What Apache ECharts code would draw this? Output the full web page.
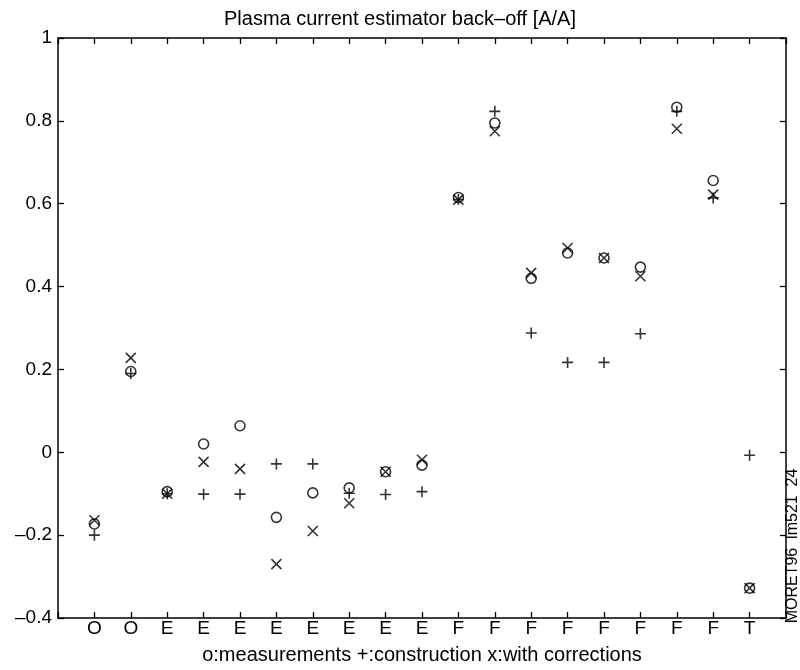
<!DOCTYPE html>
<html>
<head>
<meta charset="utf-8">
<script src="https://cdn.jsdelivr.net/npm/echarts@6/dist/echarts.min.js"></script>
<style>html,body{margin:0;padding:0;background:#fff}#c{width:800px;height:670px}</style>
</head>
<body>
<div id="c"></div>
<script>
const categories = ['O','O','E','E','E','E','E','E','E','E','F','F','F','F','F','F','F','F','T'];
const measurements = [-0.173, 0.195, -0.095, 0.020, 0.064, -0.157, -0.098, -0.086, -0.047, -0.031, 0.615, 0.795, 0.420, 0.481, 0.469, 0.447, 0.833, 0.656, -0.328];
const construction = [-0.200, 0.190, -0.100, -0.101, -0.101, -0.028, -0.028, -0.099, -0.102, -0.095, 0.610, 0.823, 0.288, 0.217, 0.217, 0.286, 0.823, 0.614, -0.007];
const corrections  = [-0.164, 0.228, -0.100, -0.023, -0.040, -0.270, -0.190, -0.123, -0.047, -0.018, 0.610, 0.775, 0.433, 0.493, 0.469, 0.425, 0.781, 0.622, -0.328];
const yTicks = [-0.4, -0.2, 0, 0.2, 0.4, 0.6, 0.8, 1];

const toPts = arr => arr.map((v, i) => [i + 1, v]);
const font = 'Liberation Sans, Arial, Helvetica, sans-serif';
const fmtY = v => {
  const r = Math.round(v * 10) / 10;
  if (r === 0) return '0';
  return (r < 0 ? '\u2013' : '') + String(Math.abs(r));
};
const markerStyle = {color: 'transparent', borderColor: '#000', borderWidth: 1.6};
const axisLine = {show: true, onZero: false, lineStyle: {color: '#000', width: 1.5}};
const axisTick = {show: true, inside: true, length: 6, lineStyle: {color: '#000', width: 1.3}};

const chart = echarts.init(document.getElementById('c'), null, {renderer: 'canvas'});
chart.setOption({
  backgroundColor: '#fff',
  animation: false,
  title: {
    text: 'Plasma current estimator back\u2013off [A/A]',
    left: 'center', top: 4,
    textStyle: {fontFamily: font, fontSize: 20, fontWeight: 'normal', color: '#000'}
  },
  grid: {left: 58, right: 14, top: 38, bottom: 52, containLabel: false, outerBoundsMode: 'none'},
  xAxis: [{
    type: 'value', min: 0, max: 20, interval: 1, position: 'bottom',
    name: 'o:measurements +:construction x:with corrections',
    nameLocation: 'middle', nameGap: 27,
    nameTextStyle: {fontFamily: font, fontSize: 20, color: '#000'},
    axisLine: axisLine, axisTick: axisTick,
    axisLabel: {
      fontFamily: font, fontSize: 19, color: '#000', margin: 1,
      formatter: v => (v >= 1 && v <= categories.length) ? categories[v - 1] : ''
    },
    splitLine: {show: false}
  }, {
    type: 'value', min: 0, max: 20, interval: 1, position: 'top',
    axisLine: axisLine, axisTick: axisTick,
    axisLabel: {show: false}, splitLine: {show: false}
  }],
  yAxis: [{
    type: 'value', min: -0.4, max: 1, interval: 0.2, position: 'left',
    axisLine: axisLine, axisTick: axisTick,
    axisLabel: {fontFamily: font, fontSize: 19, color: '#000', margin: 6, formatter: fmtY},
    splitLine: {show: false}
  }, {
    type: 'value', min: -0.4, max: 1, interval: 0.2, position: 'right',
    axisLine: axisLine, axisTick: axisTick,
    axisLabel: {show: false}, splitLine: {show: false}
  }],
  graphic: [{
    type: 'text', x: 793, y: 546, rotation: Math.PI / 2, originX: 0, originY: 0,
    style: {text: 'MORET96  lm521  24', font: '16px ' + font, fill: '#000', align: 'center', verticalAlign: 'middle'}
  }],
  series: [{
    name: 'measurements', type: 'scatter', data: toPts(measurements),
    symbol: 'circle', symbolSize: 10, itemStyle: markerStyle, z: 3
  }, {
    name: 'construction', type: 'scatter', data: toPts(construction),
    symbol: 'path://M0,5L10,5M5,0L5,10', symbolSize: 11, itemStyle: markerStyle, z: 3
  }, {
    name: 'corrections', type: 'scatter', data: toPts(corrections),
    symbol: 'path://M0,0L10,10M10,0L0,10', symbolSize: 10, itemStyle: markerStyle, z: 3
  }]
});
</script>
</body>
</html>
